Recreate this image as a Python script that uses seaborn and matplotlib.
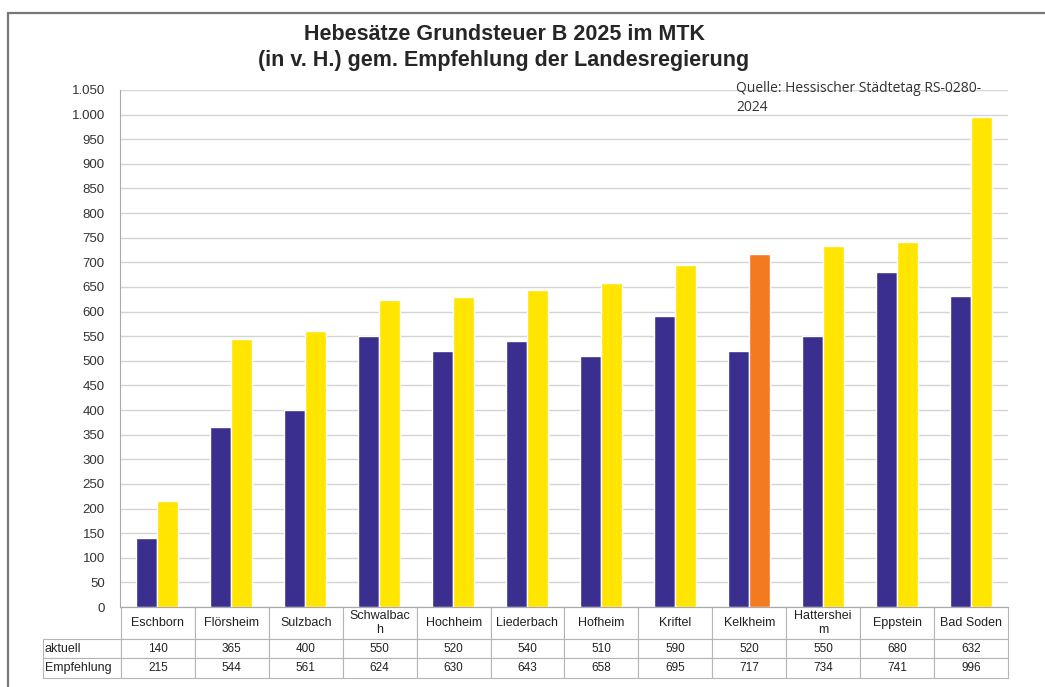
import pandas as pd
import seaborn as sns
import matplotlib.pyplot as plt
from matplotlib.lines import Line2D
from matplotlib.table import Table

# Data
gemeinden = ["Eschborn", "Flörsheim", "Sulzbach", "Schwalbach", "Hochheim", "Liederbach",
             "Hofheim", "Kriftel", "Kelkheim", "Hattersheim", "Eppstein", "Bad Soden"]
header_labels = ["Eschborn", "Flörsheim", "Sulzbach", "Schwalbac\nh", "Hochheim", "Liederbach",
                 "Hofheim", "Kriftel", "Kelkheim", "Hattershei\nm", "Eppstein", "Bad Soden"]
aktuell = [140, 365, 400, 550, 520, 540, 510, 590, 520, 550, 680, 632]
empfehlung = [215, 544, 561, 624, 630, 643, 658, 695, 717, 734, 741, 996]
reihen = ["aktuell", "Empfehlung"]
y_ticks = list(range(0, 1051, 50))

blue = "#3a2f8f"
yellow = "#ffe500"
orange = "#f47a20"

df = pd.DataFrame({
    "Gemeinde": gemeinden * 2,
    "Reihe": ["aktuell"] * len(gemeinden) + ["Empfehlung"] * len(gemeinden),
    "Wert": aktuell + empfehlung,
})

sns.set_style("white")
plt.rcParams["font.family"] = ["Liberation Sans", "DejaVu Sans"]

W, H = 1045, 687
fig = plt.figure(figsize=(W / 100, H / 100), dpi=100)
ax = fig.add_axes([120 / W, (H - 607) / H, (1008 - 120) / W, (607 - 90) / H])

sns.barplot(data=df, x="Gemeinde", y="Wert", hue="Reihe", order=gemeinden,
            hue_order=reihen, palette=[blue, yellow], width=0.56, gap=0,
            saturation=1, legend=False, ax=ax)

# Kelkheim recommendation highlighted in orange
ax.containers[1][gemeinden.index("Kelkheim")].set_facecolor(orange)

ax.set_ylim(0, 1050)
ax.set_yticks(y_ticks)
ax.set_yticklabels([f"{v:,}".replace(",", ".") for v in y_ticks], fontsize=9.5, color="#333333")
ax.tick_params(axis="y", length=5, color="#aaaaaa", pad=6)
ax.tick_params(axis="x", length=0, labelbottom=False)
ax.set_xlabel("")
ax.set_ylabel("")
ax.set_axisbelow(True)
ax.yaxis.grid(True, color="#d4d4d4", lw=1)
for s in ["top", "right"]:
    ax.spines[s].set_visible(False)
ax.spines["left"].set_color("#aaaaaa")
ax.spines["bottom"].set_color("#aaaaaa")

# data table below the axis (label column + one column per municipality)
tbl = Table(ax, bbox=[(43 - 120) / 888, -(678 - 607) / 517, (1008 - 43) / 888, (678 - 607) / 517])
row_h = {0: 32, 1: 19, 2: 20}
label_w = 78


def add(row, col, text, size, loc="center"):
    w = label_w if col == 0 else 74
    cell = tbl.add_cell(row, col, width=w, height=row_h[row], text=text, loc=loc,
                        edgecolor="#b5b5b5", facecolor="white")
    cell.set_linewidth(0.8)
    cell.get_text().set_color("#222222")
    cell.get_text().set_fontsize(size)
    return cell


tbl.auto_set_font_size(False)
for j, lab in enumerate(header_labels):
    add(0, j + 1, lab, 9)
for i, (name, vals) in enumerate(zip(reihen, [aktuell, empfehlung])):
    lc = add(i + 1, 0, name, 9, loc="left")
    lc.PAD = 0.02
    for j, v in enumerate(vals):
        add(i + 1, j + 1, str(v), 8.5)
ax.add_table(tbl)

# title and source
fig.text(504 / W, 1 - 40 / H, "Hebesätze Grundsteuer B 2025 im MTK",
         ha="center", va="baseline", fontsize=15.5, fontweight="bold")
fig.text(504 / W, 1 - 66 / H, "(in v. H.) gem. Empfehlung der Landesregierung",
         ha="center", va="baseline", fontsize=15.5, fontweight="bold")
fig.text(736 / W, 1 - 92 / H, "Quelle: Hessischer Städtetag RS-0280-",
         ha="left", va="baseline", fontsize=10, family="Open Sans", color="#333333")
fig.text(736 / W, 1 - 111 / H, "2024",
         ha="left", va="baseline", fontsize=10, family="Open Sans", color="#333333")

# outer frame lines
fig.add_artist(Line2D([8 / W, 1], [1 - 13 / H, 1 - 13 / H], transform=fig.transFigure,
                      color="#777777", lw=1.6))
fig.add_artist(Line2D([8 / W, 8 / W], [0, 1 - 13 / H], transform=fig.transFigure,
                      color="#777777", lw=1.6))

fig.savefig("out.png", dpi=100)
